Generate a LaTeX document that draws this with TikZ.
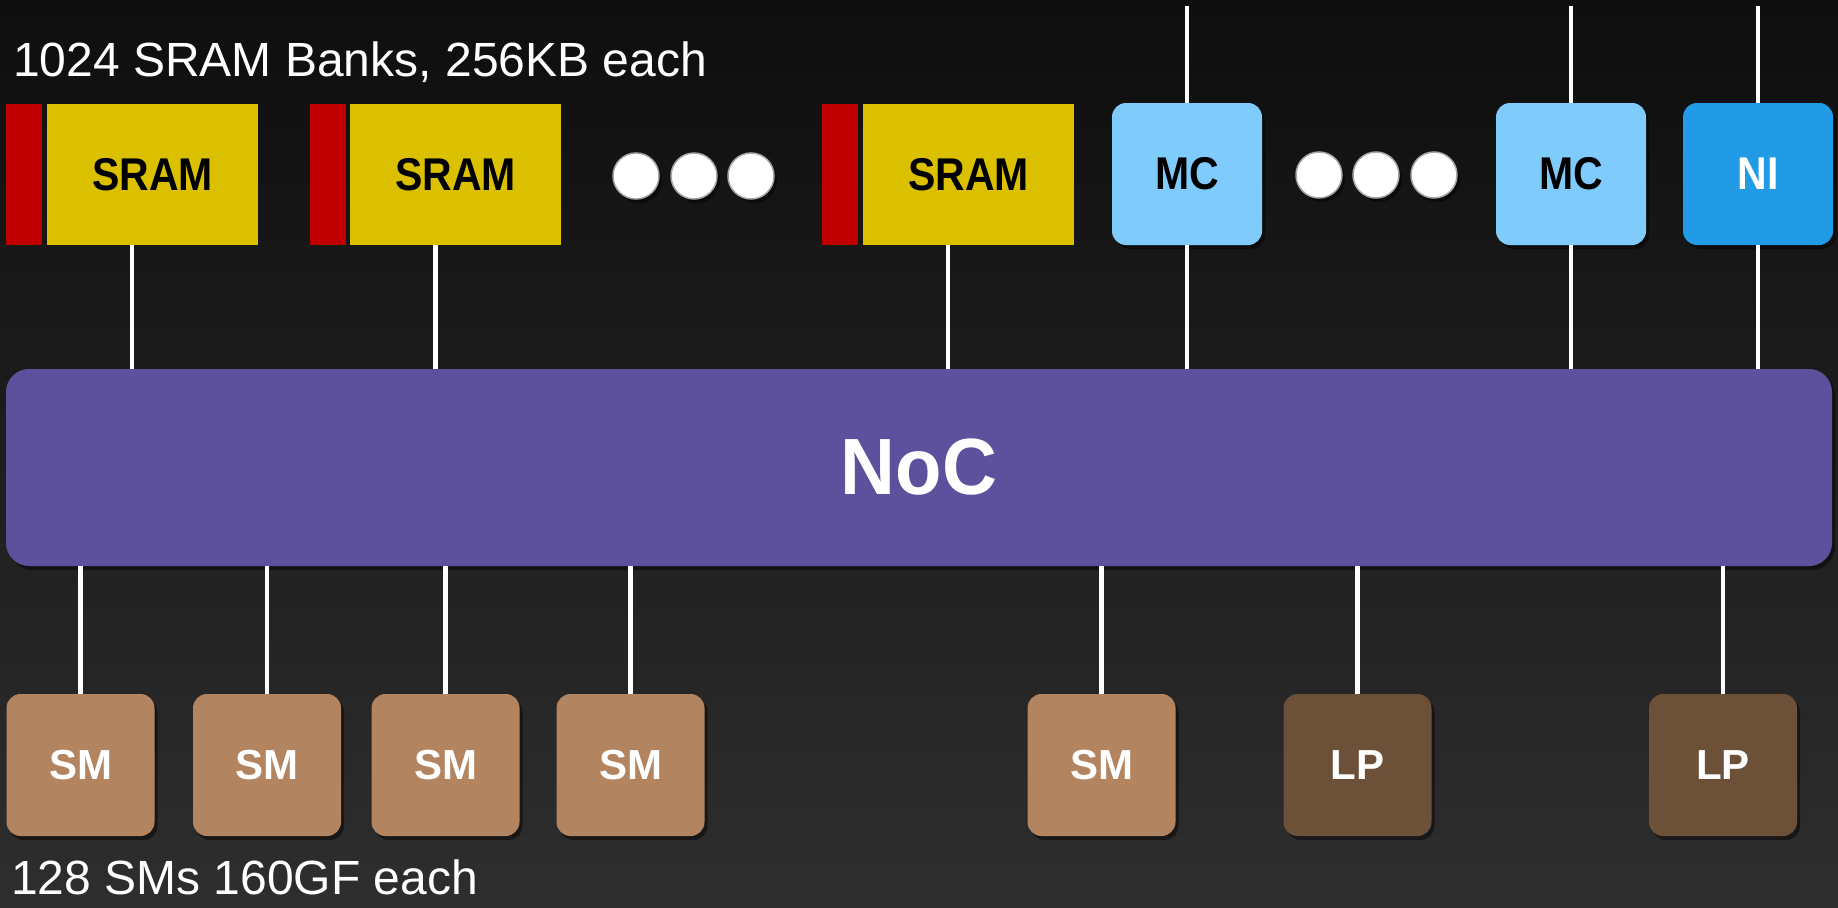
\documentclass[tikz,border=0pt]{standalone}
\usepackage{fontspec}
\setmainfont{Liberation Sans}
\usetikzlibrary{calc,shadows}
\definecolor{bgtop}{HTML}{0E0E0E}
\definecolor{bgbot}{HTML}{2E2E2E}
\definecolor{sramY}{HTML}{DBC000}
\definecolor{sramR}{HTML}{C00000}
\definecolor{mcB}{HTML}{7FCBFB}
\definecolor{niB}{HTML}{219BE6}
\definecolor{nocP}{HTML}{5D509D}
\definecolor{smC}{HTML}{B38460}
\definecolor{lpC}{HTML}{6C5038}
\newcommand{\toplbl}[1]{\scalebox{1}[1.12]{#1}}
\begin{document}
\begin{tikzpicture}[x=1pt,y=-1pt,
  shd/.style={drop shadow={shadow xshift=3pt,shadow yshift=-4pt,opacity=0.45,fill=black}},
  redbar/.style={fill=sramR,draw=none,minimum width=36pt,minimum height=141pt,inner sep=0pt},
  srambox/.style={fill=sramY,draw=none,minimum width=211pt,minimum height=141pt,inner sep=0pt,
    font=\fontsize{41}{48}\selectfont\bfseries,text=black},
  mcbox/.style={shd,fill=mcB,draw=none,rounded corners=14pt,minimum width=150pt,minimum height=142pt,inner sep=0pt,
    font=\fontsize{41}{48}\selectfont\bfseries,text=black},
  nibox/.style={mcbox,fill=niB,text=white},
  smbox/.style={shd,fill=smC,draw=none,rounded corners=14pt,minimum width=148pt,minimum height=142pt,inner sep=0pt,
    font=\fontsize{42}{48}\selectfont\bfseries,text=white},
  lpbox/.style={smbox,fill=lpC},
  dot/.style={shd,circle,fill=white,draw=gray!70,line width=1.5pt,minimum size=46pt,inner sep=0pt},
  wire/.style={draw=white,line width=4.5pt},
  caption/.style={font=\fontsize{48}{56}\selectfont,text=white,inner sep=0pt,anchor=base west}
]
\shade[top color=bgtop,bottom color=bgbot] (0,0) rectangle (1838,907);
\useasboundingbox (0,0) rectangle (1838,907);

% captions
\node[caption] (cap1) at (13,77) {1024 SRAM Banks, 256KB each};
\node[caption] (cap2) at (11,894) {128 SMs 160GF each};

% NoC
\node[shd,fill=nocP,draw=none,rounded corners=23pt,minimum width=1826pt,minimum height=197pt,inner sep=0pt,
  font=\fontsize{76}{80}\selectfont\bfseries,text=white] (noc) at (919,467.5) {\scalebox{1}[1.05]{NoC}};

% SRAM banks
\node[redbar] (red1) at (24,174.5) {};
\node[srambox] (sram1) at (152.5,174.5) {\toplbl{SRAM}};
\node[redbar] (red2) at (327.5,174.5) {};
\node[srambox] (sram2) at (455.5,174.5) {\toplbl{SRAM}};
\node[redbar] (red3) at (840,174.5) {};
\node[srambox] (sram3) at (968.5,174.5) {\toplbl{SRAM}};

% dots
\node[dot] (d1) at (636,176) {};
\node[dot] (d2) at (694,176) {};
\node[dot] (d3) at (751,176) {};
\node[dot] (d4) at (1319,175) {};
\node[dot] (d5) at (1376,175) {};
\node[dot] (d6) at (1434,175) {};

% MC / NI
\node[mcbox] (mc1) at (1187,174) {\toplbl{MC}};
\node[mcbox] (mc2) at (1571,174) {\toplbl{MC}};
\node[nibox] (ni) at (1758,174) {\toplbl{NI}};

% SM / LP
\node[smbox] (sm1) at (80.5,765) {SM};
\node[smbox] (sm2) at (267,765) {SM};
\node[smbox] (sm3) at (445.5,765) {SM};
\node[smbox] (sm4) at (630.5,765) {SM};
\node[smbox] (sm5) at (1101.5,765) {SM};
\node[lpbox] (lp1) at (1357.5,765) {LP};
\node[lpbox] (lp2) at (1723,765) {LP};

% connectors
\coordinate (top) at (0,6);
\coordinate (b1) at ($(red1.south west)!.5!(sram1.south east)$);
\coordinate (b2) at ($(red2.south west)!.5!(sram2.south east)$);
\coordinate (b3) at ($(red3.south west)!.5!(sram3.south east)$);
\draw[wire] (b1) -- (b1 |- noc.north);
\draw[wire] (b2) -- (b2 |- noc.north);
\draw[wire] (b3) -- (b3 |- noc.north);
\draw[wire] (mc1.south) -- (mc1.south |- noc.north);
\draw[wire] (mc2.south) -- (mc2.south |- noc.north);
\draw[wire] (ni.south) -- (ni.south |- noc.north);
\draw[wire] (mc1.north) -- (mc1.north |- top);
\draw[wire] (mc2.north) -- (mc2.north |- top);
\draw[wire] (ni.north) -- (ni.north |- top);
\draw[wire] (noc.south -| sm1.north) -- (sm1.north);
\draw[wire] (noc.south -| sm2.north) -- (sm2.north);
\draw[wire] (noc.south -| sm3.north) -- (sm3.north);
\draw[wire] (noc.south -| sm4.north) -- (sm4.north);
\draw[wire] (noc.south -| sm5.north) -- (sm5.north);
\draw[wire] (noc.south -| lp1.north) -- (lp1.north);
\draw[wire] (noc.south -| lp2.north) -- (lp2.north);
\end{tikzpicture}
\end{document}
